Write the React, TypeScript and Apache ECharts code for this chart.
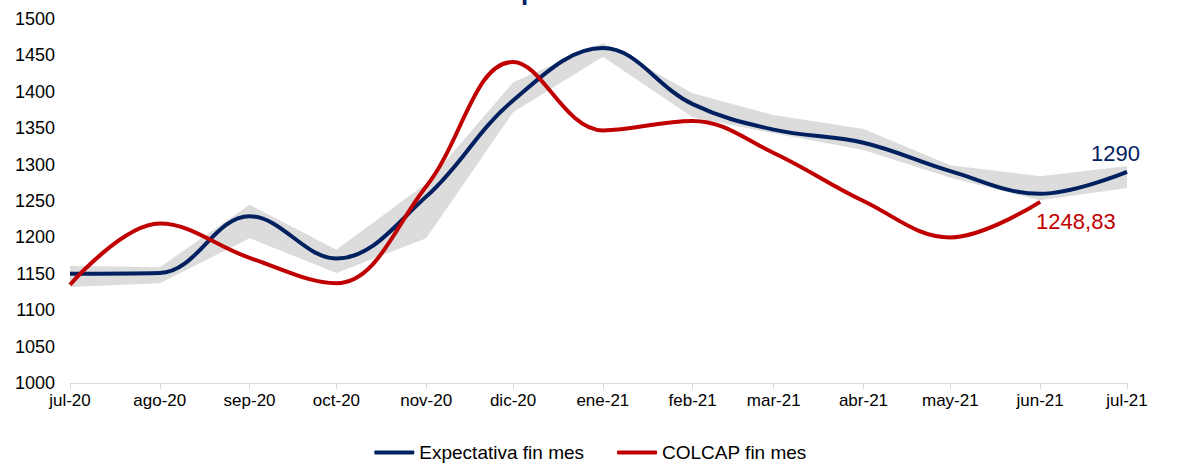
import React, { useEffect, useRef } from "react";
import * as echarts from "echarts";

const TITLE = "Gráfico 1: Expectativa del COLCAP";
const months = [
  "2020-07-01", "2020-08-01", "2020-09-01", "2020-10-01", "2020-11-01", "2020-12-01",
  "2021-01-01", "2021-02-01", "2021-03-01", "2021-04-01", "2021-05-01", "2021-06-01", "2021-07-01",
];
const monthLabels = [
  "jul-20", "ago-20", "sep-20", "oct-20", "nov-20", "dic-20",
  "ene-21", "feb-21", "mar-21", "abr-21", "may-21", "jun-21", "jul-21",
];
const expectativa = [1150, 1151, 1229, 1171, 1256, 1388, 1460, 1383, 1348, 1330, 1291, 1260, 1290];
const colcap = [1135, 1219, 1172, 1137, 1270, 1441, 1347, 1360, 1316, 1250, 1200, 1248.83];
const bandLow = [1132, 1137, 1199, 1151, 1199, 1372, 1448, 1365, 1343, 1320, 1282, 1251, 1268];
const bandHigh = [1161, 1159, 1245, 1183, 1274, 1413, 1467, 1398, 1368, 1349, 1299, 1284, 1298];

const NAVY = "#002060";
const RED = "#C00000";
const FONT = "'Liberation Sans', Arial, sans-serif";

const start = Date.parse(months[0]);
const dayOf = (d: string) => Math.round((Date.parse(d) - start) / 86400000);
const xDays = months.map(dayOf);

export default function App() {
  const ref = useRef<HTMLDivElement>(null);
  useEffect(() => {
    if (!ref.current) return;
    const chart = echarts.init(ref.current, undefined, { renderer: "svg" });
    chart.setOption({
      animation: false,
      textStyle: { fontFamily: FONT },
      graphic: [
        {
          type: "text",
          x: 578,
          y: 3.5,
          silent: true,
          style: {
            text: TITLE,
            fill: NAVY,
            font: `bold 26px ${FONT}`,
            align: "center",
            verticalAlign: "bottom",
          },
        },
      ],
      grid: { left: 70, right: 54, top: 19, bottom: 81, containLabel: false },
      legend: {
        top: 438,
        left: "center",
        icon: "roundRect",
        itemWidth: 40,
        itemHeight: 4,
        itemGap: 33,
        data: ["Expectativa fin mes", "COLCAP fin mes"],
        textStyle: { fontSize: 19, color: "#000", fontFamily: FONT },
      },
      xAxis: {
        type: "value",
        min: 0,
        max: xDays[xDays.length - 1],
        splitLine: { show: false },
        axisLine: { show: true, lineStyle: { color: "#d9d9d9", width: 1 } },
        axisTick: { show: true, customValues: xDays, length: 6, lineStyle: { color: "#d9d9d9" } },
        axisLabel: {
          customValues: xDays,
          fontSize: 17,
          color: "#000",
          margin: 9,
          fontFamily: FONT,
          formatter: (v: number) => {
            const i = xDays.indexOf(Math.round(v));
            return i >= 0 ? monthLabels[i] : "";
          },
        },
      },
      yAxis: {
        type: "value",
        min: 1000,
        max: 1500,
        interval: 50,
        splitLine: { show: false },
        axisLine: { show: false },
        axisTick: { show: false },
        axisLabel: {
          fontSize: 18,
          color: "#000",
          margin: 15,
          fontFamily: FONT,
          formatter: (v: number) => String(v),
        },
      },
      series: [
        {
          name: "band",
          type: "custom",
          silent: true,
          z: 1,
          data: [0],
          renderItem: (_params: any, api: any) => {
            const upper = bandHigh.map((v, i) => api.coord([xDays[i], v]));
            const lower = bandLow.map((v, i) => api.coord([xDays[i], v])).reverse();
            return {
              type: "polygon",
              shape: { points: upper.concat(lower) },
              style: { fill: "#dcdcdc" },
            };
          },
        },
        {
          name: "Expectativa fin mes",
          type: "line",
          smooth: 0.38,
          symbol: "none",
          lineStyle: { color: NAVY, width: 4 },
          itemStyle: { color: NAVY },
          z: 3,
          data: expectativa.map((v, i) => [xDays[i], v]),
          endLabel: {
            show: true,
            distance: 0,
            offset: [-36, -18],
            color: NAVY,
            fontSize: 22,
            fontFamily: FONT,
            formatter: () => String(expectativa[expectativa.length - 1]),
          },
        },
        {
          name: "COLCAP fin mes",
          type: "line",
          smooth: 0.38,
          symbol: "none",
          lineStyle: { color: RED, width: 4 },
          itemStyle: { color: RED },
          z: 4,
          data: colcap.map((v, i) => [xDays[i], v]),
          endLabel: {
            show: true,
            distance: 0,
            offset: [-4, 20],
            color: RED,
            fontSize: 22,
            fontFamily: FONT,
            formatter: () => String(colcap[colcap.length - 1]).replace(".", ","),
          },
        },
      ],
    });
    return () => chart.dispose();
  }, []);
  return (
    <div
      ref={ref}
      style={{ position: "absolute", left: 0, top: 0, width: 1181, height: 464, background: "#fff" }}
    />
  );
}
